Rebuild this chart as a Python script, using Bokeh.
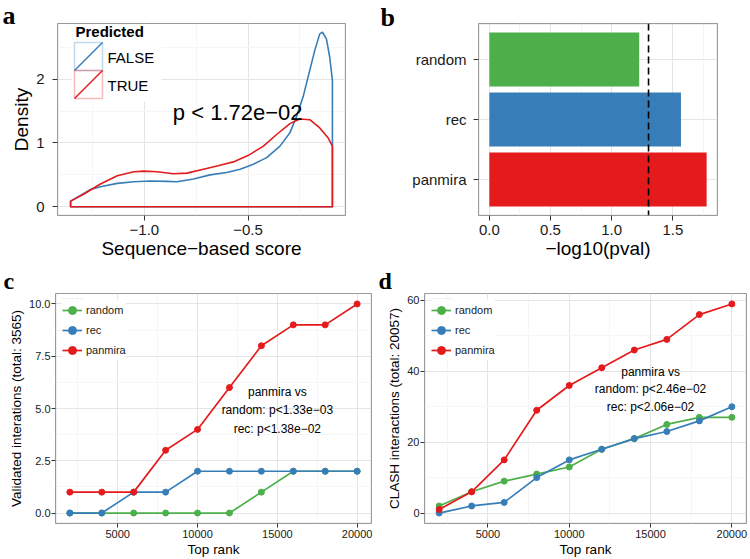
import numpy as np
from bokeh.plotting import figure
from bokeh.models import (Range1d, FactorRange, FixedTicker, Label, Span,
                          BoxAnnotation, Arrow, Legend, LegendItem)
from bokeh.layouts import row, column
from bokeh.embed import file_html
from bokeh.resources import INLINE

# ---------------- data ----------------
# panel a: density of sequence-based score
false_x = [-1.356, -1.308, -1.26, -1.212, -1.131, -1.051, -0.971, -0.891, -0.843,
           -0.763, -0.683, -0.603, -0.538, -0.474, -0.41, -0.346, -0.298, -0.266,
           -0.234, -0.202, -0.178, -0.154, -0.141, -0.122, -0.106, -0.093]
false_y = [0.088, 0.176, 0.27, 0.315, 0.367, 0.393, 0.403, 0.398, 0.393,
           0.434, 0.50, 0.537, 0.589, 0.667, 0.77, 0.95, 1.158, 1.416,
           1.726, 2.14, 2.45, 2.708, 2.734, 2.63, 2.346, 1.98]
true_x = [-1.356, -1.292, -1.212, -1.131, -1.051, -1.003, -0.939, -0.859, -0.795,
          -0.715, -0.635, -0.571, -0.498, -0.426, -0.362, -0.298, -0.25, -0.202,
          -0.154, -0.114, -0.093]
true_y = [0.088, 0.2, 0.357, 0.486, 0.548, 0.558, 0.548, 0.517, 0.527,
          0.589, 0.651, 0.703, 0.806, 0.951, 1.132, 1.302, 1.375, 1.364,
          1.235, 1.08, 0.951]
pred_labels = ["FALSE", "TRUE"]
p_text_a = "p < 1.72e\u221202"

# panel b: -log10(pval)
methods_b = ["panmira", "rec", "random"]
neglog_p = [1.776, 1.566, 1.225]
threshold_p = 0.05

# panels c, d
top_rank = [2000, 4000, 6000, 8000, 10000, 12000, 14000, 16000, 18000, 20000]
series_names = ["random", "rec", "panmira"]
valid_c = {
    "random":  [0, 0, 0, 0, 0, 0, 1, 2, 2, 2],
    "rec":     [0, 0, 1, 1, 2, 2, 2, 2, 2, 2],
    "panmira": [1, 1, 1, 3, 4, 6, 8, 9, 9, 10],
}
clash_d = {
    "random":  [2, 6, 9, 11, 13, 18, 21, 25, 27, 27],
    "rec":     [0, 2, 3, 10, 15, 18, 21, 23, 26, 30],
    "panmira": [1, 6, 15, 29, 36, 41, 46, 49, 56, 59],
}
text_c = ["panmira vs", "random: p<1.33e\u221203", "rec: p<1.38e\u221202"]
text_d = ["panmira vs", "random: p<2.46e\u221202", "rec: p<2.06e\u221202"]

# ---------------- style ----------------
FONT = "Liberation Sans"
LETTER_FONT = "Liberation Serif"
RED, BLUE, GREEN = "#E41A1C", "#377EB8", "#4DAF4A"
COLORS = {"random": GREEN, "rec": BLUE, "panmira": RED}
GRID_MAJOR = "#E5E5E5"
GRID_MINOR = "#F6F6F6"
BORDER = "#9A9A9A"
TXT = "#1a1a1a"


def expand(lo, hi, f=0.05):
    d = (hi - lo) * f
    return lo - d, hi + d


def screen_box(**kw):
    return BoxAnnotation(left_units="screen", right_units="screen",
                         top_units="screen", bottom_units="screen", **kw)


def base_style(p):
    p.outline_line_color = BORDER
    p.outline_line_width = 1
    p.background_fill_color = "white"
    p.border_fill_color = "white"
    p.grid.grid_line_color = GRID_MAJOR
    p.grid.grid_line_width = 1
    p.grid.minor_grid_line_color = GRID_MINOR
    for ax in p.axis:
        ax.axis_line_color = None
        ax.major_tick_line_color = "#333333"
        ax.major_tick_line_width = 1
        ax.minor_tick_line_color = None
        ax.major_tick_in = 0
        ax.major_label_text_font = FONT
        ax.major_label_text_color = TXT
        ax.axis_label_text_font = FONT
        ax.axis_label_text_font_style = "normal"
        ax.axis_label_text_color = "black"


def frame_border(p, fw, fh):
    p.add_layout(screen_box(left=0, right=fw, top=fh, bottom=0,
                            fill_color=None, line_color=BORDER, line_width=2))


def set_axis(ax, tick_out, lab_standoff, lab_size, title_standoff, title_size):
    ax.major_tick_out = tick_out
    ax.major_label_standoff = lab_standoff
    ax.major_label_text_font_size = lab_size
    ax.axis_label_standoff = title_standoff
    ax.axis_label_text_font_size = title_size


def letter_side(p, txt, x_off, y):
    # placed in the (empty) right side panel so that it is not clipped by the frame
    p.add_layout(Label(x=x_off, y=y, x_units="screen", y_units="screen",
                       text=txt, text_font=LETTER_FONT, text_font_style="bold",
                       text_font_size="26px", text_color="black",
                       text_align="left", text_baseline="alphabetic"), "right")


def letter_title(p, txt, left):
    p.title.text = txt
    p.title.text_font = LETTER_FONT
    p.title.text_font_style = "bold"
    p.title.text_font_size = "24px"
    p.title.text_color = "black"
    p.title.align = "left"
    p.title.offset = -left + 3
    p.title.standoff = 0


# ---------------- panel a ----------------
ax_lo, ax_hi = expand(min(false_x + true_x), max(false_x + true_x))
ay_lo, ay_hi = expand(0, max(false_y + true_y))
FW_A, FH_A = 288, 193
pa = figure(width=375, height=265, x_range=Range1d(ax_lo, ax_hi),
            y_range=Range1d(ay_lo, ay_hi), output_backend="svg",
            toolbar_location=None, min_border_left=57, min_border_right=30,
            min_border_top=23, min_border_bottom=49)
base_style(pa)
pa.xaxis.axis_label = "Sequence\u2212based score"
pa.yaxis.axis_label = "Density"
pa.xaxis.ticker = FixedTicker(ticks=[-1.0, -0.5], minor_ticks=[-1.25, -0.75, -0.25])
pa.xaxis.major_label_overrides = {-1.0: "\u22121.0", -0.5: "\u22120.5"}
pa.yaxis.ticker = FixedTicker(ticks=[0, 1, 2], minor_ticks=[0.5, 1.5, 2.5])
set_axis(pa.xaxis[0], 5, 4, "15px", 0, "19px")
set_axis(pa.yaxis[0], 5, 8, "15px", 1, "19px")

for xs, ys, col in [(false_x, false_y, BLUE), (true_x, true_y, RED)]:
    px = [xs[0]] + xs + [xs[-1]]
    py = [0] + ys + [0]
    pa.patch(px, py, fill_color=None, line_color=col, line_width=1.6,
             line_join="round")

pa.add_layout(Label(x=-0.55, y=1.47, text=p_text_a, text_font=FONT,
                    text_font_size="22px", text_color="black",
                    text_align="center", text_baseline="middle"))


def fy_a(off):
    return FH_A - off


# manual legend (ggplot style keys)
pa.add_layout(screen_box(left=14, right=104, top=fy_a(2), bottom=fy_a(79),
                         fill_color="white", fill_alpha=1, line_color=None))
pa.add_layout(Label(x=18, y=fy_a(9), x_units="screen", y_units="screen",
                    text="Predicted", text_font=FONT, text_font_style="bold",
                    text_font_size="15px", text_color="black",
                    text_baseline="middle"))
for i, (lab, col) in enumerate(zip(pred_labels, [BLUE, RED])):
    top = 20 + 28 * i
    bot = top + 28
    pa.add_layout(screen_box(left=17, right=45, top=fy_a(top), bottom=fy_a(bot),
                             fill_color=None, line_color=col, line_width=1.5))
    pa.add_layout(Arrow(x_start=17, y_start=fy_a(bot), x_end=45, y_end=fy_a(top),
                        start_units="screen", end_units="screen", end=None,
                        line_color=col, line_width=1.5))
    pa.add_layout(Label(x=50, y=fy_a(top + 14.5), x_units="screen", y_units="screen",
                        text=lab, text_font=FONT, text_font_size="15px",
                        text_color="black", text_baseline="middle"))
frame_border(pa, FW_A, FH_A)
letter_side(pa, "a", 2 - 345, FH_A + 7)

# ---------------- panel b ----------------
bx_lo, bx_hi = expand(0, max(neglog_p))
FW_B, FH_B = 239, 192
pb = figure(width=375, height=265, x_range=Range1d(bx_lo, bx_hi),
            y_range=FactorRange(factors=methods_b, range_padding=0.2 / 3),
            output_backend="svg", toolbar_location=None,
            min_border_left=103, min_border_right=33,
            min_border_top=23, min_border_bottom=50)
base_style(pb)
pb.hbar(y=methods_b, right=neglog_p, left=0, height=0.9,
        fill_color=[COLORS[m] for m in methods_b], line_color=None)
pb.add_layout(Span(location=-np.log10(threshold_p), dimension="height",
                   line_color="black", line_dash="7 4", line_width=1.6))
pb.xaxis.axis_label = "\u2212log10(pval)"
pb.xaxis.ticker = FixedTicker(ticks=[0, 0.5, 1.0, 1.5], minor_ticks=[0.25, 0.75, 1.25, 1.75])
pb.xaxis.major_label_overrides = {0: "0.0", 0.5: "0.5", 1.0: "1.0", 1.5: "1.5"}
set_axis(pb.xaxis[0], 5, 4, "15px", 0, "19px")
set_axis(pb.yaxis[0], 5, 7, "15px", 0, "19px")
frame_border(pb, FW_B, FH_B)
letter_side(pb, "b", 5 - 342, FH_B + 6)


# ---------------- panels c, d ----------------
def line_panel(data, left, right, ylab, yticks, yminor, ylabels, texts,
               text_x, text_y, let):
    allv = [v for s in series_names for v in data[s]]
    x_lo, x_hi = expand(min(top_rank), max(top_rank))
    y_lo, y_hi = expand(min(allv), max(allv))
    fw, fh = 375 - left - right, 232
    p = figure(width=375, height=294, x_range=Range1d(x_lo, x_hi),
               y_range=Range1d(y_lo, y_hi), output_backend="svg",
               toolbar_location=None, min_border_left=left,
               min_border_right=right, min_border_top=27, min_border_bottom=35)
    base_style(p)
    p.xaxis.axis_label = "Top rank"
    p.yaxis.axis_label = ylab
    p.xaxis.ticker = FixedTicker(ticks=[5000, 10000, 15000, 20000],
                                 minor_ticks=[2500, 7500, 12500, 17500])
    p.yaxis.ticker = FixedTicker(ticks=yticks, minor_ticks=yminor)
    p.yaxis.major_label_overrides = dict(zip(yticks, ylabels))
    set_axis(p.xaxis[0], 4, 2, "11px", 1, "13.5px")
    set_axis(p.yaxis[0], 4, 1, "11px", 2, "13.5px")
    items = []
    for s in series_names:
        l = p.line(top_rank, data[s], line_color=COLORS[s], line_width=1.7,
                   line_join="round")
        c = p.scatter(top_rank, data[s], fill_color=COLORS[s], line_color=COLORS[s],
                      size=6)
        items.append(LegendItem(label=s, renderers=[l, c]))
    leg = Legend(items=items, location="top_left", margin=7, padding=0, spacing=0,
                 glyph_width=20, glyph_height=20, label_height=20, label_standoff=4,
                 border_line_color=None, background_fill_color="white",
                 background_fill_alpha=1, label_text_font=FONT,
                 label_text_font_size="11px", label_text_color=TXT)
    p.add_layout(leg)
    for i in range(3):
        p.add_layout(screen_box(left=7, right=27, top=fh - 7 - 20 * i,
                                bottom=fh - 27 - 20 * i,
                                fill_color=None, line_color="#CFCFCF",
                                line_width=1.2))
    for t, ty in zip(texts, text_y):
        p.add_layout(Label(x=text_x, y=ty, text=t, text_font=FONT,
                           text_font_size="12px", text_color="black",
                           text_align="center", text_baseline="middle"))
    frame_border(p, fw, fh)
    letter_title(p, let, left)
    return p


pc = line_panel(valid_c, 55, 4, "Validated interations (total: 3565)",
                [0, 2.5, 5, 7.5, 10], [1.25, 3.75, 6.25, 8.75],
                ["0.0", "2.5", "5.0", "7.5", "10.0"], text_c, 15000,
                [5.81, 4.91, 4.04], "c")
pd_ = line_panel(clash_d, 49, 4, "CLASH interactions (total: 20057)",
                 [0, 20, 40, 60], [10, 30, 50], ["0", "20", "40", "60"],
                 text_d, 15000, [39.9, 35.0, 30.0], "d")

layout = column(row(pa, pb), row(pc, pd_))
open("out.html", "w").write(file_html(layout, INLINE))
